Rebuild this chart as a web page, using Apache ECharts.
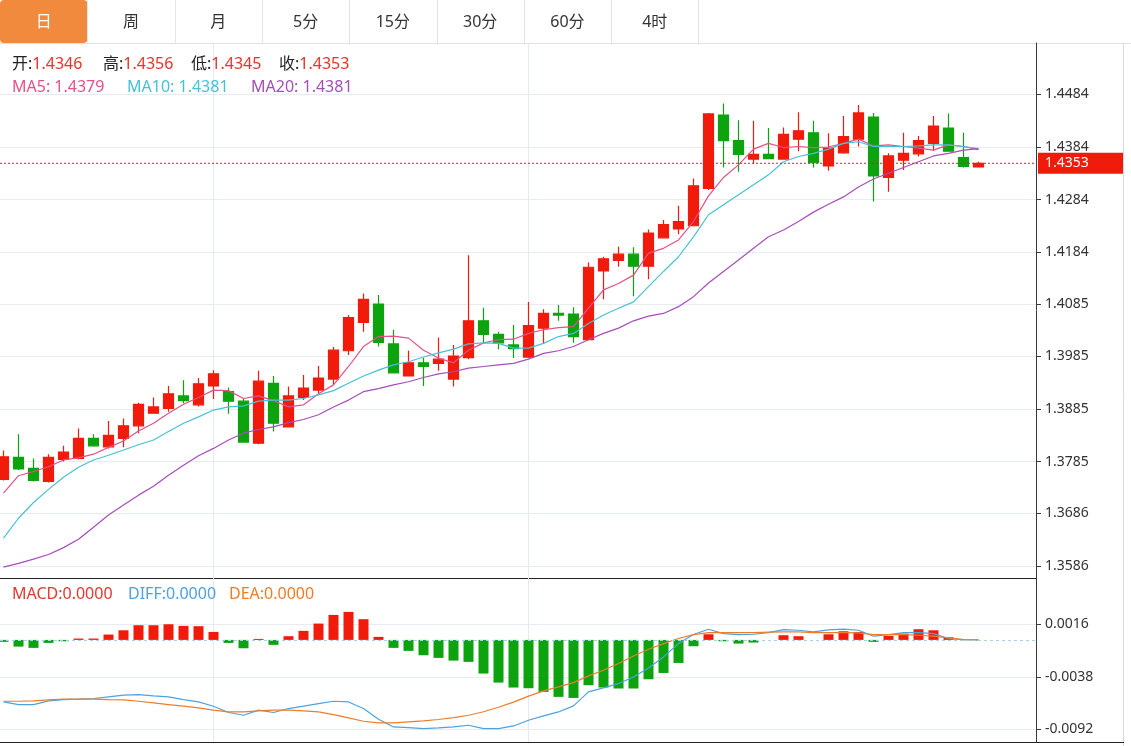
<!DOCTYPE html>
<html><head><meta charset="utf-8">
<script src="https://cdn.jsdelivr.net/npm/echarts@6/dist/echarts.min.js"></script>
<style>html,body{margin:0;padding:0;background:#fff;}#c{width:1131px;height:746px;}</style>
</head><body><div id="c"></div>
<script>
const tabs = ['日','周','月','5分','15分','30分','60分','4时'];
const opens  = [1.3751,1.3793,1.3772,1.3747,1.3789,1.3791,1.3829,1.3813,1.3829,1.3853,1.3877,1.3886,1.3910,1.3893,1.3929,1.3918,1.3900,1.3820,1.3934,1.3851,1.3907,1.3921,1.3942,1.3996,1.4050,1.4085,1.4009,1.3948,1.3973,1.3972,1.3942,1.3983,1.4053,1.4027,1.4007,1.3984,1.4039,1.4067,1.4066,1.4017,1.4148,1.4168,1.4180,1.4157,1.4211,1.4228,1.4234,1.4305,1.4445,1.4396,1.4361,1.4370,1.4361,1.4399,1.4411,1.4348,1.4373,1.4399,1.4441,1.4326,1.4359,1.4371,1.4391,1.4420,1.4364,1.4346];
const closes = [1.3794,1.3771,1.3749,1.3793,1.3803,1.3829,1.3815,1.3835,1.3853,1.3894,1.3889,1.3914,1.3901,1.3933,1.3952,1.3900,1.3822,1.3938,1.3858,1.3910,1.3925,1.3944,1.3997,1.4059,1.4094,1.4012,1.3954,1.3973,1.3966,1.3980,1.3986,1.4053,1.4027,1.4011,1.4000,1.4044,1.4067,1.4064,1.4023,1.4155,1.4171,1.4180,1.4157,1.4220,1.4236,1.4242,1.4310,1.4447,1.4396,1.4370,1.4370,1.4362,1.4408,1.4415,1.4354,1.4382,1.4404,1.4449,1.4329,1.4367,1.4372,1.4396,1.4424,1.4376,1.4347,1.4353];
const lows   = [1.3749,1.3769,1.3747,1.3745,1.3785,1.3789,1.3813,1.3810,1.3812,1.3839,1.3877,1.3880,1.3896,1.3890,1.3904,1.3876,1.3821,1.3818,1.3842,1.3850,1.3902,1.3915,1.3931,1.3988,1.4032,1.4004,1.3953,1.3947,1.3929,1.3958,1.3928,1.3980,1.4010,1.3999,1.3982,1.3982,1.4010,1.4053,1.4011,1.4017,1.4094,1.4156,1.4100,1.4132,1.4211,1.4218,1.4234,1.4302,1.4345,1.4337,1.4352,1.4361,1.4360,1.4376,1.4345,1.4339,1.4371,1.4385,1.4280,1.4299,1.4340,1.4366,1.4377,1.4376,1.4345,1.4345];
const highs  = [1.3806,1.3837,1.3791,1.3799,1.3815,1.3848,1.3837,1.3862,1.3867,1.3897,1.3907,1.3929,1.3940,1.3944,1.3959,1.3926,1.3905,1.3958,1.3948,1.3928,1.3950,1.3967,1.4003,1.4064,1.4105,1.4102,1.4036,1.3996,1.3982,1.4021,1.4007,1.4178,1.4078,1.4032,1.4045,1.4089,1.4075,1.4083,1.4079,1.4164,1.4175,1.4194,1.4193,1.4227,1.4245,1.4272,1.4324,1.4449,1.4467,1.4435,1.4434,1.4420,1.4421,1.4450,1.4434,1.4410,1.4443,1.4464,1.4449,1.4372,1.4411,1.4405,1.4443,1.4448,1.4411,1.4356];
const ma5  = [1.3725,1.3758,1.3766,1.3775,1.3788,1.3792,1.3799,1.3812,1.3824,1.3843,1.3858,1.3877,1.3894,1.3907,1.3921,1.3920,1.3905,1.3910,1.3901,1.3889,1.3893,1.3914,1.3931,1.3966,1.4004,1.4023,1.4024,1.4020,1.3997,1.3982,1.3973,1.3997,1.4011,1.4017,1.4018,1.4029,1.4036,1.4040,1.4042,1.4077,1.4112,1.4124,1.4140,1.4182,1.4191,1.4207,1.4242,1.4291,1.4326,1.4350,1.4380,1.4391,1.4383,1.4385,1.4383,1.4384,1.4391,1.4399,1.4386,1.4388,1.4385,1.4382,1.4378,1.4388,1.4385,1.4379];
const ma10 = [1.3639,1.3677,1.3707,1.3732,1.3755,1.3774,1.3788,1.3797,1.3807,1.3817,1.3826,1.3842,1.3858,1.3870,1.3883,1.3889,1.3891,1.3900,1.3902,1.3902,1.3905,1.3912,1.3920,1.3934,1.3948,1.3959,1.3969,1.3975,1.3984,1.3992,1.3999,1.4009,1.4011,1.4010,1.4001,1.4001,1.4010,1.4023,1.4029,1.4048,1.4064,1.4077,1.4089,1.4118,1.4147,1.4175,1.4213,1.4255,1.4274,1.4293,1.4312,1.4331,1.4356,1.4366,1.4372,1.4380,1.4391,1.4394,1.4385,1.4385,1.4385,1.4386,1.4388,1.4388,1.4385,1.4381];
const ma20 = [1.3584,1.3591,1.3599,1.3608,1.3621,1.3637,1.3660,1.3683,1.3702,1.3721,1.3738,1.3759,1.3778,1.3796,1.3810,1.3826,1.3839,1.3846,1.3851,1.3859,1.3865,1.3874,1.3889,1.3902,1.3918,1.3924,1.3931,1.3937,1.3945,1.3952,1.3956,1.3963,1.3966,1.3969,1.3972,1.3980,1.3991,1.3996,1.4004,1.4017,1.4029,1.4039,1.4053,1.4062,1.4067,1.4080,1.4099,1.4125,1.4147,1.4169,1.4191,1.4213,1.4226,1.4242,1.4260,1.4275,1.4289,1.4308,1.4323,1.4334,1.4345,1.4356,1.4367,1.4372,1.4378,1.4381];
const macdHist = [-0.0002,-0.00069,-0.00082,-0.00031,-0.00014,0.00014,0.00014,0.00055,0.00099,0.00151,0.00151,0.00161,0.00144,0.00141,0.00082,-0.00031,-0.00086,0.0001,-0.00051,0.00038,0.00093,0.00168,0.00257,0.00288,0.00213,0.00031,-0.00082,-0.00113,-0.00158,-0.00185,-0.00213,-0.00226,-0.00346,-0.00439,-0.0049,-0.00497,-0.00535,-0.00586,-0.00597,-0.00466,-0.0049,-0.005,-0.005,-0.00405,-0.0034,-0.00237,-0.00065,0.00058,-0.00014,-0.00038,-0.00027,0,0.00048,0.00038,0,0.00058,0.00089,0.00082,-0.0002,0.00041,0.00065,0.0011,0.00099,0.00027,0,0];
const diffLine = [-0.00638,-0.00665,-0.00665,-0.00627,-0.00614,-0.0061,-0.00603,-0.00586,-0.00569,-0.00562,-0.00576,-0.00586,-0.00614,-0.00638,-0.00682,-0.00747,-0.00775,-0.00723,-0.00747,-0.00706,-0.00682,-0.00655,-0.00631,-0.00638,-0.00706,-0.00816,-0.00895,-0.00902,-0.00912,-0.00905,-0.00895,-0.00878,-0.00912,-0.00912,-0.00885,-0.00826,-0.00782,-0.00741,-0.00679,-0.00535,-0.00494,-0.00449,-0.00381,-0.00288,-0.00175,-0.00038,0.00055,0.0011,0.00065,0.00055,0.00058,0.00075,0.00106,0.00099,0.00082,0.00103,0.0011,0.00099,0.00038,0.00055,0.00075,0.00075,0.00065,0.00014,0.00003,0];
const deaLine = [-0.00631,-0.00631,-0.00627,-0.00617,-0.0061,-0.0061,-0.0061,-0.00614,-0.00617,-0.00631,-0.00648,-0.00665,-0.00682,-0.00699,-0.00723,-0.00741,-0.00741,-0.0073,-0.00723,-0.00723,-0.0073,-0.00741,-0.00768,-0.00802,-0.00837,-0.00854,-0.00854,-0.00843,-0.00833,-0.00819,-0.00799,-0.00775,-0.00739,-0.00693,-0.0064,-0.00578,-0.00525,-0.00483,-0.00439,-0.0037,-0.00312,-0.00243,-0.00165,-0.00096,-0.00038,0.00014,0.00055,0.00075,0.00075,0.00075,0.00075,0.00079,0.00082,0.00082,0.00075,0.00075,0.00075,0.00072,0.00055,0.00055,0.00055,0.00048,0.00038,0.00021,0.00003,0];
const priceTicks = ['1.4484','1.4384','1.4284','1.4184','1.4085','1.3985','1.3885','1.3785','1.3686','1.3586'];
const macdTicks = ['0.0016','-0.0038','-0.0092'];
const splitIdx = [14, 35];

const RED = '#F11B0B', GREEN = '#0DA30F';
const C_MA5 = '#E4508A', C_MA10 = '#45C2D6', C_MA20 = '#A54FB8';
const C_DIFF = '#4DA2E0', C_DEA = '#EE7D2A', C_MACD = '#E2392E';
const FONT = '"Noto Sans", "Noto Sans CJK SC", sans-serif';
const priceVals = priceTicks.map(Number);
const macdVals = macdTicks.map(Number);
const N = opens.length;
const last = N - 1;
const X_MIN = -0.23333, X_MAX = 68.8333;

const candleData = opens.map((o, i) => [i, o, closes[i], lows[i], highs[i]]);
const pair = arr => arr.map((v, i) => [i, v]);

const xCommon = {
  type: 'value', min: X_MIN, max: X_MAX,
  axisLine: { show: false }, axisLabel: { show: false },
  axisTick: { show: false, customValues: splitIdx },
  splitLine: { show: true, lineStyle: { color: '#E3EAF0', width: 1 } }
};

const g = [];
const tabW = 87.3;
tabs.forEach((t, i) => {
  if (i === 0) g.push({ type: 'rect', shape: { x: 0, y: 0, width: tabW, height: 43, r: 4 }, style: { fill: '#F28A3E' } });
  g.push({ type: 'text', style: { text: t, x: tabW * i + tabW / 2, y: 22, align: 'center', verticalAlign: 'middle', fill: i === 0 ? '#fff' : '#333', fontSize: 16, fontFamily: FONT } });
  g.push({ type: 'line', shape: { x1: Math.round(tabW * (i + 1)) + 0.5, y1: 0, x2: Math.round(tabW * (i + 1)) + 0.5, y2: 43 }, style: { stroke: '#E4E4E4', lineWidth: 1 } });
});
g.push({ type: 'line', shape: { x1: 0, y1: 43.5, x2: 1131, y2: 43.5 }, style: { stroke: '#E2E2E2', lineWidth: 1 } });
g.push({ type: 'line', shape: { x1: 1123.5, y1: 43, x2: 1123.5, y2: 746 }, style: { stroke: '#DADADA', lineWidth: 1 } });
g.push({ type: 'line', shape: { x1: 0, y1: 578.5, x2: 1036, y2: 578.5 }, style: { stroke: '#222', lineWidth: 1 } });
g.push({ type: 'line', shape: { x1: 0, y1: 742.5, x2: 1124, y2: 742.5 }, style: { stroke: '#222', lineWidth: 1 } });

function legendText(x, y, parts) {
  const rich = {}; let txt = '';
  parts.forEach((p, k) => { rich['p' + k] = { fill: p[1], fontSize: 16, fontFamily: FONT }; txt += '{p' + k + '|' + p[0] + '}'; });
  g.push({ type: 'text', z: 10, style: { text: txt, x: x, y: y, align: 'left', verticalAlign: 'middle', rich: rich, fontSize: 16, fontFamily: FONT } });
}
const VALRED = '#E8332A', LBL = '#222';
legendText(12, 64, [['开:', LBL], [opens[last].toFixed(4), VALRED]]);
legendText(103, 64, [['高:', LBL], [highs[last].toFixed(4), VALRED]]);
legendText(191, 64, [['低:', LBL], [lows[last].toFixed(4), VALRED]]);
legendText(279, 64, [['收:', LBL], [closes[last].toFixed(4), VALRED]]);
legendText(12, 87, [['MA5: ' + ma5[last].toFixed(4), C_MA5]]);
legendText(127, 87, [['MA10: ' + ma10[last].toFixed(4), C_MA10]]);
legendText(251, 87, [['MA20: ' + ma20[last].toFixed(4), C_MA20]]);
legendText(12, 594, [['MACD:' + macdHist[last].toFixed(4), C_MACD]]);
legendText(128, 594, [['DIFF:' + diffLine[last].toFixed(4), C_DIFF]]);
legendText(229, 594, [['DEA:' + deaLine[last].toFixed(4), C_DEA]]);

const yCommon = (vals, min, max, gi) => ({
  type: 'value', gridIndex: gi, position: 'right', min: min, max: max,
  axisLine: { show: true, onZero: false, lineStyle: { color: '#3A3A3A', width: 1 } },
  axisTick: { show: true, length: 5, customValues: vals, lineStyle: { color: '#3A3A3A' } },
  axisLabel: { customValues: vals, formatter: v => v.toFixed(4), color: '#333', fontSize: 14, fontFamily: FONT, margin: 9 },
  splitLine: { show: true, lineStyle: { color: '#E6ECF1', width: 1 } }
});

const option = {
  animation: false,
  backgroundColor: '#fff',
  grid: [
    { left: 0, top: 43, width: 1036, height: 535, outerBoundsMode: 'none', containLabel: false },
    { left: 0, top: 578, width: 1036, height: 164, outerBoundsMode: 'none', containLabel: false }
  ],
  xAxis: [Object.assign({ gridIndex: 0 }, xCommon), Object.assign({ gridIndex: 1 }, xCommon)],
  yAxis: [yCommon(priceVals, 1.356318, 1.458209, 0), yCommon(macdVals, -0.010502, 0.006367, 1)],
  graphic: g,
  series: [
    {
      type: 'candlestick', xAxisIndex: 0, yAxisIndex: 0, data: candleData, barWidth: 10,
      itemStyle: { color: RED, color0: GREEN, borderColor: RED, borderColor0: GREEN, borderWidth: 1.2 }
    },
    { type: 'line', xAxisIndex: 0, yAxisIndex: 0, data: pair(ma5), symbol: 'none', lineStyle: { color: C_MA5, width: 1.2 }, z: 3 },
    { type: 'line', xAxisIndex: 0, yAxisIndex: 0, data: pair(ma10), symbol: 'none', lineStyle: { color: C_MA10, width: 1.2 }, z: 3 },
    { type: 'line', xAxisIndex: 0, yAxisIndex: 0, data: pair(ma20), symbol: 'none', lineStyle: { color: C_MA20, width: 1.2 }, z: 3 },
    {
      type: 'line', xAxisIndex: 0, yAxisIndex: 0, silent: true, z: 4, symbol: 'none',
      data: [[X_MIN, closes[last]], [X_MAX, closes[last]]],
      lineStyle: { color: RED, type: [2, 2], width: 1 },
      endLabel: {
        show: true, distance: 2, formatter: p => Number(p.value[1]).toFixed(4),
        color: '#fff', backgroundColor: RED, fontSize: 14, fontFamily: FONT,
        padding: [3, 0, 3, 7], width: 78, lineHeight: 15, align: 'left'
      }
    },
    {
      type: 'bar', xAxisIndex: 1, yAxisIndex: 1, data: pair(macdHist), barWidth: 10,
      itemStyle: { color: p => (p.value[1] >= 0 ? RED : GREEN) },
      markLine: { silent: true, symbol: ['none', 'none'], precision: 6, data: [{ yAxis: 0 }], label: { show: false }, lineStyle: { color: '#A6D2E8', type: [3, 3], width: 1 } }
    },
    { type: 'line', xAxisIndex: 1, yAxisIndex: 1, data: pair(diffLine), symbol: 'none', lineStyle: { color: C_DIFF, width: 1.2 }, z: 3 },
    { type: 'line', xAxisIndex: 1, yAxisIndex: 1, data: pair(deaLine), symbol: 'none', lineStyle: { color: C_DEA, width: 1.2 }, z: 3 }
  ]
};
const chart = echarts.init(document.getElementById('c'), null, { renderer: 'canvas' });
chart.setOption(option);
</script>
</body></html>
